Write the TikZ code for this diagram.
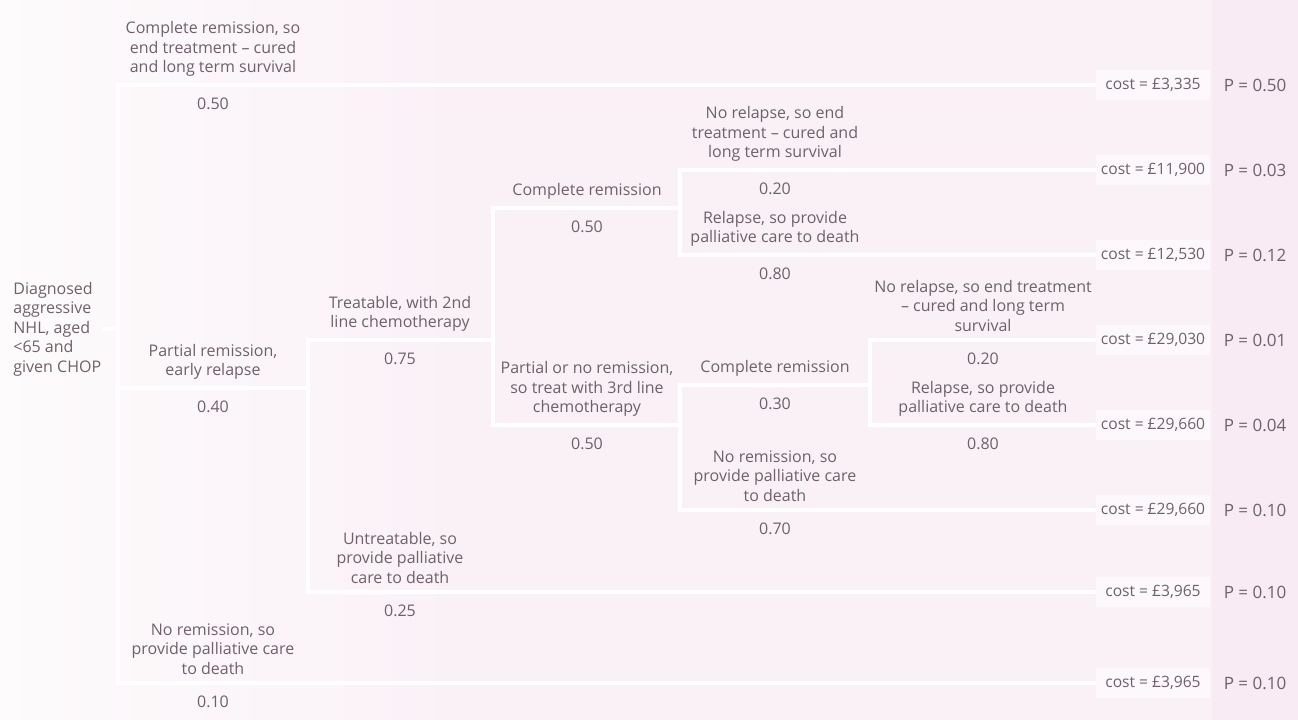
\documentclass[tikz,border=0pt]{standalone}
\usepackage{fontspec}
\setmainfont{Open Sans}
\usetikzlibrary{positioning}

\definecolor{ink}{RGB}{112,96,108}
\definecolor{paper}{RGB}{253,251,252}
\definecolor{blush}{RGB}{250,241,247}
\definecolor{pcolumn}{RGB}{248,235,244}
\definecolor{costbg}{RGB}{252,248,251}

\begin{document}
\begin{tikzpicture}
 [ x=0.5pt
 , y=-0.5pt
 , branch/.style={draw=white, line width=1.7pt}
 , lab/.style={text=ink, font=\fontsize{8}{9.75}\selectfont, align=center, inner sep=0pt}
 , prob/.style={text=ink, font=\fontsize{8}{9.75}\selectfont, inner sep=0pt}
 , costbox/.style={fill=costbg, text=ink, font=\fontsize{7.8}{9}\selectfont, minimum width=57pt, minimum height=15pt, inner sep=1pt}
 , pval/.style={text=ink, font=\fontsize{8.5}{10}\selectfont, inner sep=0pt}
 ]
  % paper
  \useasboundingbox (0,0) rectangle (1298,719);
  \fill[blush] (-6,-6) rectangle (1304,725);
  \shade[left color=paper, right color=blush] (-6,-6) rectangle (460,725);
  \fill[pcolumn] (1212,-6) rectangle (1304,725);

  % start
  \node[lab, align=left, anchor=west] (root) at (13,329)
    {Diagnosed\\aggressive\\NHL, aged\\<65 and\\given CHOP};

  % chance points
  \coordinate (c0) at (118,329);
  \coordinate (c1) at (308,388);
  \coordinate (c2) at (493,340);
  \coordinate (c3) at (680,208);
  \coordinate (c4) at (680,425);
  \coordinate (c5) at (870,385);

  % outcomes
  \node[costbox] (k1) at (1153,85)  {cost = £3,335};
  \node[costbox] (k2) at (1153,170) {cost = £11,900};
  \node[costbox] (k3) at (1153,255) {cost = £12,530};
  \node[costbox] (k4) at (1153,340) {cost = £29,030};
  \node[costbox] (k5) at (1153,425) {cost = £29,660};
  \node[costbox] (k6) at (1153,510) {cost = £29,660};
  \node[costbox] (k7) at (1153,592) {cost = £3,965};
  \node[costbox] (k8) at (1153,683) {cost = £3,965};

  \node[pval] (p1) at (1255,85)  {P = 0.50};
  \node[pval] (p2) at (1255,170) {P = 0.03};
  \node[pval] (p3) at (1255,255) {P = 0.12};
  \node[pval] (p4) at (1255,340) {P = 0.01};
  \node[pval] (p5) at (1255,425) {P = 0.04};
  \node[pval] (p6) at (1255,510) {P = 0.10};
  \node[pval] (p7) at (1255,592) {P = 0.10};
  \node[pval] (p8) at (1255,683) {P = 0.10};

  % branches
  \draw[branch] (root) -- (c0);
  \draw[branch] (c0) |- (k1);
  \draw[branch] (c0) |- (c1);
  \draw[branch] (c0) |- (k8);
  \draw[branch] (c1) |- (c2);
  \draw[branch] (c1) |- (k7);
  \draw[branch] (c2) |- (c3);
  \draw[branch] (c2) |- (c4);
  \draw[branch] (c3) |- (k2);
  \draw[branch] (c3) |- (k3);
  \draw[branch] (c4) |- (c5);
  \draw[branch] (c4) |- (k6);
  \draw[branch] (c5) |- (k4);
  \draw[branch] (c5) |- (k5);

  % first line
  \node[lab, above=4pt] (b1) at (213,85)
    {Complete remission, so\\end treatment -- cured\\and long term survival};
  \node[prob, below=6pt] (q1) at (213,85) {0.50};
  \node[lab, above=4pt] (b2) at (213,388) {Partial remission,\\early relapse};
  \node[prob, below=6pt] (q2) at (213,388) {0.40};
  \node[lab, above=4pt] (b3) at (213,683)
    {No remission, so\\provide palliative care\\to death};
  \node[prob, below=6pt] (q3) at (213,683) {0.10};

  % second line
  \node[lab, above=4pt] (b4) at (400,340) {Treatable, with 2nd\\line chemotherapy};
  \node[prob, below=6pt] (q4) at (400,340) {0.75};
  \node[lab, above=4pt] (b5) at (400,592)
    {Untreatable, so\\provide palliative\\care to death};
  \node[prob, below=6pt] (q5) at (400,592) {0.25};

  % third line
  \node[lab, above=4pt] (b6) at (587,208) {Complete remission};
  \node[prob, below=6pt] (q6) at (587,208) {0.50};
  \node[lab, above=4pt] (b7) at (587,425)
    {Partial or no remission,\\so treat with 3rd line\\chemotherapy};
  \node[prob, below=6pt] (q7) at (587,425) {0.50};

  \node[lab, above=4pt] (b8) at (775,170)
    {No relapse, so end\\treatment -- cured and\\long term survival};
  \node[prob, below=6pt] (q8) at (775,170) {0.20};
  \node[lab, above=4pt] (b9) at (775,255)
    {Relapse, so provide\\palliative care to death};
  \node[prob, below=6pt] (q9) at (775,255) {0.80};
  \node[lab, above=4pt] (b10) at (775,385) {Complete remission};
  \node[prob, below=6pt] (q10) at (775,385) {0.30};
  \node[lab, above=4pt] (b11) at (775,510)
    {No remission, so\\provide palliative care\\to death};
  \node[prob, below=6pt] (q11) at (775,510) {0.70};

  \node[lab, above=4pt] (b12) at (983,340)
    {No relapse, so end treatment\\-- cured and long term\\survival};
  \node[prob, below=6pt] (q12) at (983,340) {0.20};
  \node[lab, above=4pt] (b13) at (983,425)
    {Relapse, so provide\\palliative care to death};
  \node[prob, below=6pt] (q13) at (983,425) {0.80};
\end{tikzpicture}
\end{document}
